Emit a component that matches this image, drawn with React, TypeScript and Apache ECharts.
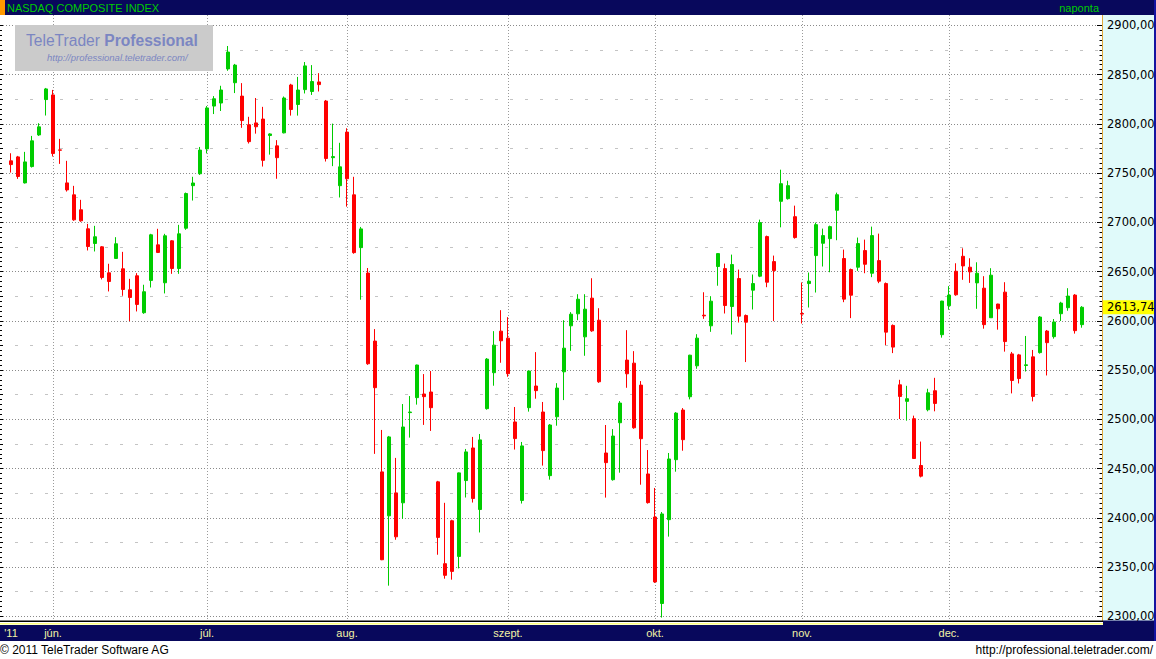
import React, { useEffect, useRef } from 'react';
import * as echarts from 'echarts';

// NASDAQ Composite daily candles, 2011-05-23 .. 2011-12-29
const OPEN = [
  2762.4, 2766.4, 2740.0, 2756.6, 2788.7, 2824.6, 2829.3, 2773.5, 2740.0, 2727.9,
  2712.7, 2693.4, 2678.5, 2675.1, 2648.7, 2663.3, 2652.8, 2631.5, 2645.7, 2608.2,
  2641.0, 2677.1, 2638.6, 2681.2, 2653.1, 2694.0, 2737.2, 2749.3, 2774.5, 2818.0,
  2821.1, 2855.7, 2841.7, 2828.1, 2799.0, 2800.9, 2804.8, 2788.1, 2777.6, 2790.8,
  2839.4, 2819.6, 2834.7, 2832.8, 2842.5, 2823.1, 2765.6, 2737.2, 2791.6, 2727.9,
  2674.3, 2648.5, 2579.4, 2446.6, 2402.0, 2425.3, 2415.2, 2506.8, 2522.0, 2525.7,
  2527.7, 2436.5, 2353.4, 2397.0, 2360.8, 2437.8, 2470.9, 2408.4, 2510.8, 2547.3,
  2589.5, 2582.4, 2497.3, 2417.6, 2511.8, 2533.8, 2507.4, 2442.8, 2502.6, 2548.2,
  2594.9, 2607.1, 2583.7, 2623.0, 2600.6, 2465.8, 2438.7, 2496.5, 2560.1, 2557.0,
  2534.7, 2444.5, 2400.8, 2313.0, 2398.1, 2459.0, 2509.4, 2522.9, 2554.3, 2605.7,
  2594.9, 2655.1, 2653.0, 2614.5, 2642.9, 2605.4, 2631.1, 2645.3, 2685.5, 2660.1,
  2721.3, 2724.0, 2705.7, 2607.4, 2637.8, 2666.2, 2678.7, 2683.4, 2712.2, 2663.2,
  2652.0, 2654.4, 2671.3, 2648.3, 2661.1, 2637.8, 2595.3, 2535.0, 2518.2, 2500.6,
  2453.1, 2509.7, 2529.0, 2585.9, 2615.3, 2650.3, 2665.5, 2654.4, 2638.5, 2633.1,
  2603.1, 2617.0, 2629.1, 2566.4, 2565.4, 2554.6, 2563.4, 2567.7, 2589.6, 2583.9,
  2607.2, 2613.3, 2626.1, 2596.1,
];
const CLOSE = [
  2758.6, 2746.5, 2761.3, 2782.7, 2796.9, 2835.4, 2769.8, 2773.2, 2732.9, 2702.5,
  2701.5, 2675.4, 2685.3, 2644.0, 2639.9, 2678.2, 2631.8, 2623.7, 2616.6, 2629.5,
  2687.3, 2669.4, 2686.3, 2653.1, 2688.3, 2729.2, 2739.9, 2773.3, 2816.1, 2825.4,
  2834.3, 2872.8, 2859.6, 2803.3, 2781.9, 2797.0, 2762.9, 2789.7, 2765.6, 2826.2,
  2814.5, 2834.3, 2858.8, 2842.9, 2839.8, 2764.8, 2766.7, 2756.3, 2744.2, 2669.2,
  2693.3, 2556.4, 2532.1, 2357.4, 2482.1, 2380.7, 2492.2, 2507.4, 2555.1, 2523.0,
  2511.8, 2380.1, 2341.6, 2345.6, 2445.6, 2466.9, 2419.6, 2479.1, 2561.1, 2575.3,
  2579.7, 2546.3, 2480.4, 2473.0, 2549.0, 2529.1, 2468.2, 2494.2, 2531.7, 2572.2,
  2606.7, 2621.9, 2611.8, 2589.8, 2538.1, 2456.0, 2483.0, 2516.5, 2546.2, 2491.4,
  2480.3, 2415.4, 2334.9, 2403.9, 2459.7, 2506.3, 2479.3, 2565.1, 2582.4, 2605.0,
  2619.9, 2668.2, 2615.5, 2657.1, 2604.7, 2598.6, 2637.8, 2699.7, 2639.2, 2651.0,
  2739.2, 2737.2, 2684.5, 2606.8, 2640.2, 2697.6, 2686.5, 2695.6, 2728.0, 2622.0,
  2626.0, 2678.4, 2657.4, 2686.5, 2640.2, 2588.5, 2573.3, 2523.2, 2520.9, 2460.2,
  2442.3, 2526.9, 2516.1, 2620.0, 2626.1, 2626.4, 2655.7, 2649.7, 2648.3, 2596.1,
  2646.3, 2612.2, 2578.9, 2539.4, 2541.4, 2555.3, 2523.2, 2603.8, 2577.8, 2598.8,
  2618.0, 2625.1, 2590.0, 2613.74,
];
const LOW = [
  2750.5, 2744.1, 2739.4, 2755.6, 2787.7, 2808.4, 2766.8, 2759.3, 2731.2, 2701.5,
  2700.5, 2671.4, 2670.4, 2642.0, 2629.8, 2663.0, 2625.4, 2599.7, 2609.5, 2607.1,
  2633.8, 2668.8, 2627.8, 2647.7, 2647.7, 2692.4, 2722.1, 2748.1, 2769.9, 2809.9,
  2813.0, 2853.8, 2831.2, 2795.9, 2780.0, 2790.0, 2756.6, 2768.7, 2744.2, 2790.3,
  2808.3, 2808.3, 2830.8, 2829.3, 2832.8, 2761.7, 2757.0, 2725.2, 2715.9, 2668.1,
  2621.4, 2555.3, 2464.9, 2357.0, 2331.1, 2377.7, 2399.0, 2481.4, 2514.9, 2494.3,
  2488.2, 2362.5, 2338.2, 2337.2, 2348.6, 2420.6, 2415.5, 2385.1, 2509.8, 2534.1,
  2557.4, 2543.2, 2469.3, 2414.5, 2507.8, 2520.9, 2453.0, 2438.7, 2493.5, 2519.5,
  2569.5, 2600.6, 2564.5, 2588.8, 2537.0, 2420.5, 2437.7, 2445.8, 2532.0, 2490.4,
  2433.6, 2414.4, 2333.9, 2298.7, 2380.9, 2446.8, 2468.1, 2520.2, 2551.3, 2602.0,
  2588.8, 2635.6, 2607.4, 2586.1, 2598.3, 2558.1, 2611.5, 2644.3, 2634.1, 2599.7,
  2694.9, 2723.0, 2683.4, 2597.3, 2613.5, 2628.7, 2655.1, 2649.3, 2681.8, 2618.9,
  2602.7, 2650.7, 2648.3, 2644.3, 2638.2, 2575.3, 2567.2, 2500.3, 2498.6, 2460.0,
  2441.0, 2508.1, 2508.1, 2582.9, 2611.2, 2625.4, 2641.6, 2638.5, 2612.2, 2592.0,
  2603.0, 2591.0, 2568.7, 2526.3, 2536.4, 2548.5, 2518.2, 2566.7, 2544.5, 2581.9,
  2599.8, 2610.2, 2587.0, 2593.0,
];
const HIGH = [
  2770.1, 2767.4, 2771.5, 2787.7, 2800.6, 2836.4, 2834.4, 2784.7, 2762.4, 2737.0,
  2722.8, 2698.4, 2696.4, 2675.8, 2657.9, 2684.9, 2670.0, 2642.6, 2648.4, 2636.6,
  2688.3, 2693.4, 2688.3, 2681.9, 2697.4, 2730.2, 2746.2, 2776.5, 2818.0, 2828.1,
  2838.6, 2879.0, 2860.8, 2841.3, 2807.1, 2826.2, 2817.2, 2790.4, 2783.4, 2827.7,
  2840.6, 2847.6, 2862.7, 2859.6, 2851.4, 2824.2, 2800.2, 2780.7, 2795.5, 2746.2,
  2695.3, 2653.6, 2591.6, 2489.2, 2483.1, 2460.8, 2515.5, 2523.6, 2555.5, 2545.9,
  2549.0, 2437.5, 2415.2, 2398.0, 2446.0, 2469.9, 2482.1, 2485.1, 2562.2, 2589.5,
  2610.8, 2603.7, 2512.5, 2477.0, 2549.4, 2568.2, 2517.6, 2495.2, 2536.7, 2600.6,
  2608.8, 2627.0, 2627.0, 2643.2, 2612.8, 2494.2, 2490.1, 2518.5, 2590.5, 2569.2,
  2538.8, 2468.8, 2430.3, 2405.9, 2465.8, 2507.3, 2511.4, 2565.5, 2586.4, 2629.0,
  2625.0, 2668.6, 2658.1, 2667.2, 2652.0, 2606.4, 2647.0, 2702.7, 2686.5, 2666.2,
  2753.4, 2742.2, 2716.9, 2638.9, 2649.0, 2699.7, 2693.6, 2696.6, 2730.1, 2672.3,
  2653.0, 2684.5, 2682.4, 2695.6, 2688.5, 2638.9, 2596.3, 2540.1, 2534.0, 2503.7,
  2477.4, 2531.0, 2542.1, 2620.3, 2635.2, 2658.4, 2673.6, 2663.5, 2659.4, 2645.3,
  2653.4, 2617.3, 2639.2, 2568.4, 2566.4, 2584.6, 2570.4, 2604.8, 2590.7, 2601.8,
  2619.3, 2633.1, 2627.1, 2614.9,
];

// trading-day categories, month boundaries and their labels
const CATEGORIES = OPEN.map((_, i) => String(i));
const MONTH_LINES = [6, 28, 48, 71, 92, 113, 134];
const MONTH_LABELS: Record<number, string> = {
  0: "'11", 6: 'jún.', 28: 'júl.', 48: 'aug.', 71: 'szept.', 92: 'okt.', 113: 'nov.', 134: 'dec.',
};
const Y_MIN = 2300;
const Y_MAX = 2900;
const TITLE = 'NASDAQ COMPOSITE INDEX';
const PERIOD = 'naponta';

const fmt = (v: number) => v.toFixed(2).replace('.', ',');
const LAST_CLOSE = CLOSE[CLOSE.length - 1];

const NAVY = '#08085c';
const GREEN = '#00cc00';
const RED = '#ff0000';
const LOGO_BLUE = '#7b86c2';

export default function App() {
  const ref = useRef<HTMLDivElement>(null);
  useEffect(() => {
    const chart = echarts.init(ref.current!, null, { renderer: 'svg' });
    const candleData = CATEGORIES.map((_, i) => [OPEN[i], CLOSE[i], LOW[i], HIGH[i]]);
    const elements: any[] = [
      { type: 'rect', z: 0, shape: { x: 1103, y: 15, width: 51, height: 606 }, style: { fill: '#e0fafa' } },
      { type: 'line', z: 4, shape: { x1: 1102.5, y1: 15, x2: 1102.5, y2: 621 }, style: { stroke: '#e0a83c', lineWidth: 1 } },
      // logo watermark
      { type: 'rect', z: 2, shape: { x: 15, y: 25, width: 198, height: 46 }, style: { fill: '#cbcbcb' } },
      {
        type: 'text', z: 2, x: 26, y: 40,
        style: {
          text: '{a|TeleTrader }{b|Professional}', verticalAlign: 'middle',
          rich: {
            a: { fill: LOGO_BLUE, fontSize: 15.6, fontFamily: 'Liberation Sans' },
            b: { fill: LOGO_BLUE, fontSize: 15.6, fontWeight: 'bold', fontFamily: 'Liberation Sans' },
          },
        },
      },
      {
        type: 'text', z: 2, x: 47, y: 57,
        style: {
          text: 'http://professional.teletrader.com/', fill: LOGO_BLUE, fontSize: 9.5,
          fontStyle: 'italic', fontFamily: 'Liberation Sans', verticalAlign: 'middle',
        },
      },
      // header bar
      { type: 'rect', z: 4, shape: { x: 0, y: 0, width: 1156, height: 15 }, style: { fill: NAVY } },
      { type: 'rect', z: 5, shape: { x: 0, y: 0, width: 5, height: 15 }, style: { fill: '#ff9900' } },
      {
        type: 'text', z: 5, x: 7, y: 7.5,
        style: { text: TITLE, fill: GREEN, fontSize: 11, fontFamily: 'Liberation Sans', verticalAlign: 'middle' },
      },
      {
        type: 'text', z: 5, x: 1099, y: 7.5,
        style: { text: PERIOD, fill: GREEN, fontSize: 11, fontFamily: 'Liberation Sans', verticalAlign: 'middle', align: 'right' },
      },
      // bottom bars
      { type: 'rect', z: 4, shape: { x: 0, y: 620.5, width: 1103, height: 1.5 }, style: { fill: '#000' } },
      { type: 'rect', z: 4, shape: { x: 0, y: 623, width: 1103, height: 1.5 }, style: { fill: '#ffff80' } },
      { type: 'rect', z: 4, shape: { x: 0, y: 625, width: 1156, height: 16 }, style: { fill: NAVY } },
      { type: 'rect', z: 4, shape: { x: 1103, y: 620.5, width: 53, height: 5 }, style: { fill: NAVY } },
      { type: 'rect', z: 5, shape: { x: 1154, y: 0, width: 2, height: 641 }, style: { fill: '#1414a0' } },
      // footer
      {
        type: 'text', z: 5, x: 0, y: 650,
        style: { text: '© 2011 TeleTrader Software AG', fill: '#000', fontSize: 12, fontFamily: 'Liberation Sans', verticalAlign: 'middle' },
      },
      {
        type: 'text', z: 5, x: 1153, y: 650,
        style: { text: 'http://professional.teletrader.com/', fill: '#000', fontSize: 12, fontFamily: 'Liberation Sans', verticalAlign: 'middle', align: 'right' },
      },
    ];
    const option: any = {
      animation: false,
      backgroundColor: '#ffffff',
      grid: [
        { left: 0, width: 1102, top: 25.3, height: 591, outerBoundsMode: 'none', containLabel: false },
        { left: 11, width: 1071, top: 15, height: 605.5, outerBoundsMode: 'none', containLabel: false },
        { left: 11, width: 1071, top: 25.3, height: 591, outerBoundsMode: 'none', containLabel: false },
      ],
      xAxis: [
        { type: 'value', gridIndex: 0, min: 0, max: 1, show: false },
        {
          type: 'category', gridIndex: 1, data: CATEGORIES, boundaryGap: false, position: 'top', z: 1,
          axisLine: { show: false }, axisTick: { show: false }, axisLabel: { show: false },
          splitLine: {
            show: true,
            interval: (i: number) => MONTH_LINES.includes(i),
            lineStyle: { color: '#9a9a9a', type: [1, 2], width: 1 },
          },
        },
        {
          type: 'category', gridIndex: 2, data: CATEGORIES, boundaryGap: false, show: false,
        },
        {
          type: 'category', gridIndex: 1, data: CATEGORIES, boundaryGap: false, position: 'bottom', z: 10,
          axisLine: { show: false }, axisTick: { show: false }, splitLine: { show: false },
          axisLabel: {
            show: true,
            interval: (i: number) => MONTH_LABELS[i] !== undefined,
            formatter: (_v: string, i: number) => MONTH_LABELS[i] ?? '',
            color: '#f2f2a6', fontFamily: 'Liberation Sans', fontSize: 11, margin: 7,
          },
        },
      ],
      yAxis: [
        {
          type: 'value', gridIndex: 0, min: Y_MIN, max: Y_MAX, interval: 50, z: 1,
          axisLine: { show: false }, axisTick: { show: false }, axisLabel: { show: false },
          splitLine: { show: true, lineStyle: { color: '#8a8a8a', type: [1, 2], width: 1 } },
          minorTick: { show: false, splitNumber: 2 },
          minorSplitLine: { show: true, lineStyle: { color: '#c4c4c4', type: [3, 12], width: 1 } },
        },
        { type: 'value', gridIndex: 1, min: 0, max: 1, show: false },
        { type: 'value', gridIndex: 2, min: Y_MIN, max: Y_MAX, show: false },
        {
          type: 'value', gridIndex: 0, min: Y_MIN, max: Y_MAX, interval: 50, position: 'right', z: 10,
          axisLine: { show: false },
          axisTick: { show: true, inside: true, length: 5, lineStyle: { color: '#000', width: 1 } },
          minorTick: { show: true, splitNumber: 10, length: 2.5, lineStyle: { color: '#000', width: 1 } },
          splitLine: { show: false },
          axisLabel: {
            show: true, inside: false, margin: 5, formatter: (v: number) => fmt(v),
            color: '#000', fontFamily: 'DejaVu Sans', fontSize: 11.5,
          },
        },
        {
          type: 'value', gridIndex: 0, min: Y_MIN, max: Y_MAX, interval: 25, position: 'left', z: 10,
          axisLine: { show: false },
          axisTick: { show: true, inside: true, length: 3, lineStyle: { color: '#000', width: 1 } },
          minorTick: { show: true, splitNumber: 5, length: 2, lineStyle: { color: '#000', width: 1 } },
          splitLine: { show: false }, axisLabel: { show: false },
        },
      ],
      series: [
        {
          type: 'candlestick', xAxisIndex: 2, yAxisIndex: 2, data: candleData,
          barWidth: 4, clip: false, z: 3,
          itemStyle: {
            color: GREEN, color0: RED, borderColor: GREEN, borderColor0: RED, borderWidth: 1,
          },
        },
      ],
      graphic: { elements },
    };
    chart.setOption(option);
    // last-value marker on the price axis, placed through the axis scale
    const yLast = chart.convertToPixel({ yAxisIndex: 2 }, LAST_CLOSE) as unknown as number;
    if (typeof yLast === 'number' && isFinite(yLast)) {
      elements.push(
        { type: 'rect', z: 6, shape: { x: 1103, y: yLast - 7, width: 51, height: 14 }, style: { fill: '#ffff00' } },
        {
          type: 'text', z: 7, x: 1107, y: yLast,
          style: { text: fmt(LAST_CLOSE), fill: '#000', fontSize: 11.5, fontFamily: 'DejaVu Sans', verticalAlign: 'middle' },
        },
      );
      chart.setOption({ ...option, graphic: { elements } }, true);
    }
    return () => chart.dispose();
  }, []);
  return (
    <div
      ref={ref}
      style={{ position: 'absolute', left: 0, top: 0, width: 1156, height: 659, background: '#fff' }}
    />
  );
}
